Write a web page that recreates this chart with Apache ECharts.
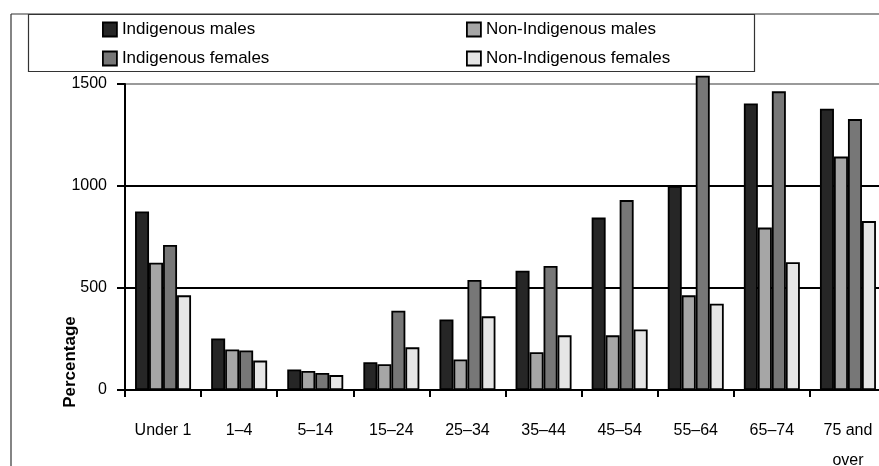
<!DOCTYPE html>
<html>
<head>
<meta charset="utf-8">
<script src="https://cdn.jsdelivr.net/npm/echarts@6/dist/echarts.min.js"></script>
<style>
  html, body { margin: 0; padding: 0; background: #fff; }
  #chart { width: 879px; height: 466px; }
</style>
</head>
<body>
<div id="chart"></div>
<script>
// Age groups along the x axis
var ageGroups = ['Under 1', '1–4', '5–14', '15–24', '25–34', '35–44', '45–54', '55–64', '65–74', '75 and\nover'];

// Values per age group, one array per population group
var indigenousMales      = [875, 253, 101, 136, 346, 585, 845, 1000, 1405, 1379];
var nonIndigenousMales   = [624, 199,  93, 126, 150, 185, 268,  464,  796, 1144];
var indigenousFemales    = [711, 194,  83, 389, 539, 608, 931, 1541, 1464, 1328];
var nonIndigenousFemales = [464, 144,  73, 209, 361, 268, 297,  423,  626,  828];

// Value axis ticks
var yTicks = [0, 500, 1000, 1500];

var seriesNames = ['Indigenous males', 'Non-Indigenous males', 'Indigenous females', 'Non-Indigenous females'];
var seriesData = [indigenousMales, nonIndigenousMales, indigenousFemales, nonIndigenousFemales];
var seriesColors = ['#262626', '#a6a6a6', '#777777', '#e6e6e6'];

var FONT = '"Liberation Sans", Arial, sans-serif';

var chart = echarts.init(document.getElementById('chart'), null, { renderer: 'canvas' });

var series = seriesNames.map(function (name, i) {
  return {
    name: name,
    type: 'bar',
    data: seriesData[i],
    barWidth: 14,
    barGap: '0%',
    clip: false,
    animation: false,
    itemStyle: { color: seriesColors[i], borderColor: '#000', borderWidth: 1.8 }
  };
});

var legendText = { color: '#000', fontFamily: FONT, fontSize: 17 };
var legendBase = {
  orient: 'vertical', top: 21, padding: 0,
  icon: 'rect', itemWidth: 14, itemHeight: 14, itemGap: 12,
  textStyle: legendText, selectedMode: false,
  itemStyle: { borderColor: '#000', borderWidth: 1.8 }
};

chart.setOption({
  backgroundColor: '#fff',
  animation: false,
  grid: { left: 125, top: 84, width: 761, height: 306, containLabel: false, outerBoundsMode: 'none' },
  legend: [
    Object.assign({}, legendBase, { data: [seriesNames[0], seriesNames[2]], left: 102 }),
    Object.assign({}, legendBase, { data: [seriesNames[1], seriesNames[3]], left: 466 })
  ],
  xAxis: {
    type: 'category',
    data: ageGroups,
    axisLine: { lineStyle: { color: '#000', width: 2 } },
    axisTick: { show: true, length: 7, lineStyle: { color: '#000', width: 2 } },
    axisLabel: { color: '#000', fontFamily: FONT, fontSize: 16, lineHeight: 30, margin: 26 },
    splitLine: { show: false }
  },
  yAxis: {
    type: 'value',
    min: yTicks[0], max: yTicks[yTicks.length - 1], interval: 500,
    axisLine: { show: true, lineStyle: { color: '#000', width: 2 } },
    axisTick: { show: true, length: 8, lineStyle: { color: '#000', width: 2 } },
    axisLabel: { color: '#000', fontFamily: FONT, fontSize: 16, margin: 18, formatter: function (v) { return String(v); } },
    splitLine: { show: true, lineStyle: { color: ['#000', '#000', '#000', '#9a9a9a'], width: 2 } }
  },
  graphic: [
    // outer frame (left and top edges)
    { type: 'line', shape: { x1: 11, y1: 14, x2: 11, y2: 466 }, style: { stroke: '#333', lineWidth: 1.2 } },
    { type: 'line', shape: { x1: 11, y1: 14, x2: 879, y2: 14 }, style: { stroke: '#333', lineWidth: 1.2 } },
    // legend box
    { type: 'rect', shape: { x: 28.5, y: 14.5, width: 726, height: 57 }, style: { fill: 'none', stroke: '#333', lineWidth: 1.2 }, z: 10 },
    // y axis title
    {
      type: 'text', x: 70, y: 362, rotation: Math.PI / 2,
      style: { text: 'Percentage', fill: '#000', font: 'bold 17px ' + FONT, align: 'center', verticalAlign: 'middle' }
    }
  ],
  series: series
});
</script>
</body>
</html>
